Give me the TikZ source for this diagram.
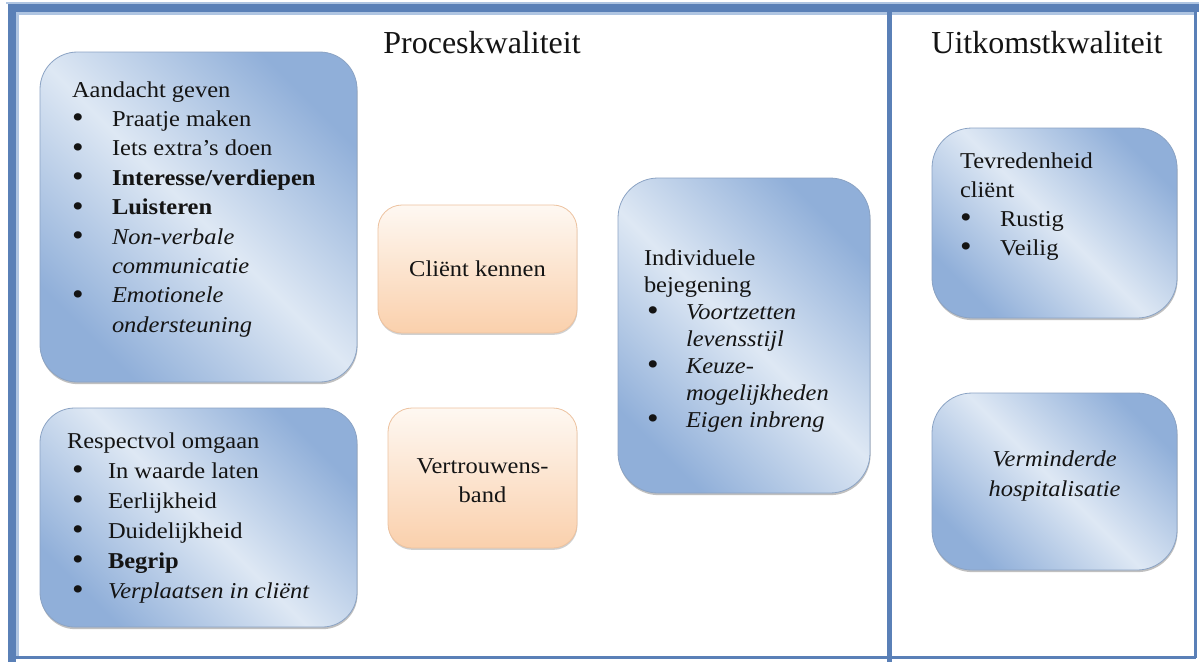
\documentclass[tikz,border=0pt]{standalone}
\usepackage{fontspec}
\setmainfont{Liberation Serif}[FakeStretch=1.08]
\newfontfamily\headfont{Liberation Serif}
\usetikzlibrary{shadows}

% one drawing unit = one pixel of the layout grid
\newlength\pxu
\setlength\pxu{0.75pt}

\definecolor{frameblue}{HTML}{5A80B7}
\definecolor{framelight}{HTML}{AFC5E2}
\definecolor{bluedark}{HTML}{90AFD9}
\definecolor{bluelight}{HTML}{DEE8F4}
\definecolor{blueedge}{HTML}{8BA3C4}
\definecolor{peachtop}{HTML}{FEF8F2}
\definecolor{peachbot}{HTML}{FAD0AC}
\definecolor{peachedge}{HTML}{EDC29F}
\definecolor{inktext}{HTML}{141414}

% bullet with a fixed hanging indent, and the indent alone for wrapped lines
\newcommand\itm[2][36]{\makebox[#1\pxu][l]{\raisebox{-0.15ex}{\scalebox{1.35}{\textbullet}}}#2}
\newcommand\cont[2][36]{\hspace*{#1\pxu}#2}

\tikzset{
  panelbox/.style 2 args={minimum width=#1*0.75pt, minimum height=#2*0.75pt,
    anchor=north west, inner sep=0pt, outer sep=0pt},
  bluebox/.style={draw=blueedge, line width=0.6pt, rounded corners=28pt,
    left color=bluedark, right color=bluedark, middle color=bluelight,
    shading angle=135,
    drop shadow={shadow xshift=0.4pt, shadow yshift=-1.6pt, opacity=0.35, fill=black!70}},
  peachbox/.style={draw=peachedge, line width=0.6pt, rounded corners=18pt,
    top color=peachtop, bottom color=peachbot,
    drop shadow={shadow xshift=0.3pt, shadow yshift=-1.4pt, opacity=0.3, fill=black!60}},
  bodytext/.style={inner sep=0pt, outer sep=0pt, text=inktext,
    font=\fontsize{17pt}{22pt}\selectfont},
  heading/.style={inner sep=0pt, text=inktext, font=\headfont\fontsize{24pt}{28pt}\selectfont},
}

\begin{document}
\begin{tikzpicture}[x=0.75pt, y=-0.75pt]
\useasboundingbox (0,0) rectangle (1199,662);
\fill[white] (0,0) rectangle (1199,662);

% outer frame: heavy top and left edges, thin light inner rule
\fill[framelight] (6,2) rectangle (1199,4);
\fill[frameblue] (8,4) rectangle (1199,12);
\fill[frameblue] (8,4) rectangle (16,662);
\fill[framelight] (16,12) rectangle (1197,14.5);
\fill[framelight] (16,12) rectangle (18.5,656);
\draw[frameblue, line width=1.6pt] (16,657.5) -- (1196,657.5);
\draw[frameblue, line width=1.6pt] (1195.5,12) -- (1195.5,658);
% divider between the two columns
\fill[frameblue] (887,12) rectangle (891.5,662);

% column headings
\node[heading, anchor=base] (hProc) at (482,53) {Proceskwaliteit};
\node[heading, anchor=base] (hUit) at (1047,53) {Uitkomstkwaliteit};

% process column
\node[bluebox, panelbox={317}{330}] (aandacht) at (40,52) {};
\node[bodytext, anchor=base west] (aandachtTxt) at (72,97) {\parbox[t]{290\pxu}{%
  \setlength\baselineskip{29.4\pxu}%
  Aandacht geven\\
  \itm[40]{Praatje maken}\\
  \itm[40]{Iets extra's doen}\\
  \itm[40]{\textbf{Interesse/verdiepen}}\\
  \itm[40]{\textbf{Luisteren}}\\
  \itm[40]{\textit{Non-verbale}}\\
  \cont[40]{\textit{communicatie}}\\
  \itm[40]{\textit{Emotionele}}\\
  \cont[40]{\textit{ondersteuning}}}};

\node[bluebox, rounded corners=26pt, panelbox={317}{219}] (respect) at (40,408) {};
\node[bodytext, anchor=base west] (respectTxt) at (67,448) {\parbox[t]{290\pxu}{%
  \setlength\baselineskip{30\pxu}%
  Respectvol omgaan\\
  \hspace*{5\pxu}\itm{In waarde laten}\\
  \hspace*{5\pxu}\itm{Eerlijkheid}\\
  \hspace*{5\pxu}\itm{Duidelijkheid}\\
  \hspace*{5\pxu}\itm{\textbf{Begrip}}\\
  \hspace*{5\pxu}\itm{\textit{Verplaatsen in cliënt}}}};

\node[peachbox, panelbox={199}{128}] (kennen) at (378,205) {};
\node[bodytext] (kennenTxt) at (kennen.center) {Cliënt kennen};

\node[peachbox, panelbox={189}{140}] (vertrouwen) at (388,408) {};
\node[bodytext, align=center, yshift=-2pt] (vertrouwenTxt) at (vertrouwen.center) {Vertrouwens-\\band};

\node[bluebox, rounded corners=30pt, panelbox={252}{315}] (bejegening) at (618,178) {};
\node[bodytext, anchor=base west] (bejegeningTxt) at (644,265) {\parbox[t]{225\pxu}{%
  \setlength\baselineskip{27\pxu}%
  Individuele\\
  bejegening\\
  \hspace*{3\pxu}\itm[39]{\textit{Voortzetten}}\\
  \hspace*{3\pxu}\cont[39]{\textit{levensstijl}}\\
  \hspace*{3\pxu}\itm[39]{\textit{Keuze-}}\\
  \hspace*{3\pxu}\cont[39]{\textit{mogelijkheden}}\\
  \hspace*{3\pxu}\itm[39]{\textit{Eigen inbreng}}}};

% outcome column
\node[bluebox, rounded corners=30pt, panelbox={245}{190}] (tevreden) at (932,128) {};
\node[bodytext, anchor=base west] (tevredenTxt) at (960,168) {\parbox[t]{210\pxu}{%
  \setlength\baselineskip{29\pxu}%
  Tevredenheid\\
  cliënt\\
  \itm[40]{Rustig}\\
  \itm[40]{Veilig}}};

\node[bluebox, rounded corners=30pt, panelbox={245}{177}] (hospital) at (932,393) {};
\node[bodytext, align=center, font=\itshape\fontsize{17pt}{23pt}\selectfont, yshift=4pt] (hospitalTxt) at (hospital.center) {Verminderde\\hospitalisatie};

\end{tikzpicture}
\end{document}
